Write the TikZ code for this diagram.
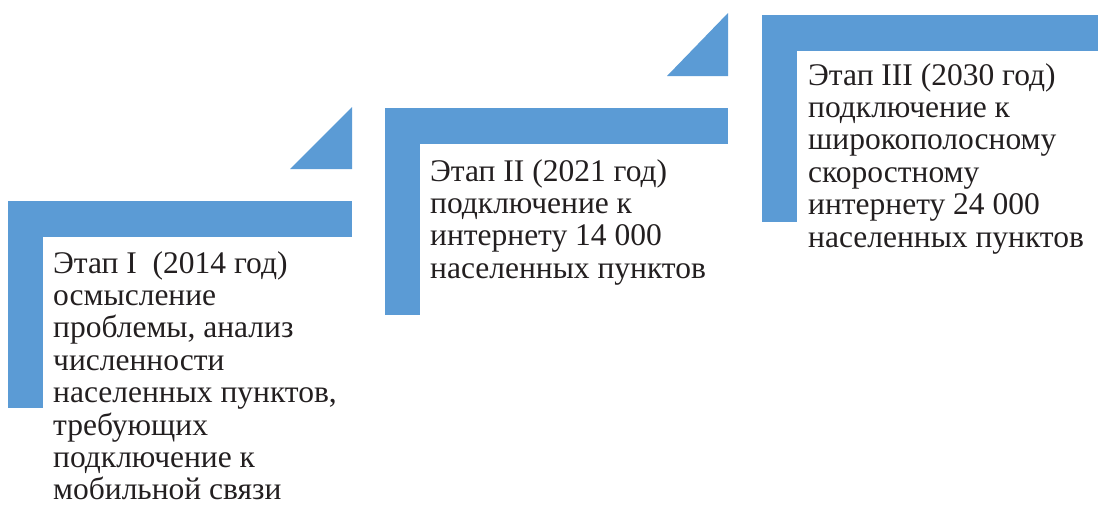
\documentclass[tikz,border=0pt]{standalone}
\usepackage{fontspec}
\setmainfont{Liberation Serif}
\usetikzlibrary{positioning}

\definecolor{stepblue}{HTML}{5B9BD5}
\definecolor{steptextcol}{HTML}{231F20}

\tikzset{
    stepbar/.style={fill=stepblue, draw=none, inner sep=0pt, outer sep=0pt},
    hbar/.style={stepbar, minimum width=#1, minimum height=36pt, anchor=north west},
    vbar/.style={stepbar, minimum width=35pt, minimum height=171pt},
    steptext/.style={align=left, inner sep=0pt, text=steptextcol,
        font=\fontsize{31.5}{32.4}\selectfont}
}

\begin{document}
\begin{tikzpicture}[x=1pt, y=-1pt]
\useasboundingbox (0,0) rectangle (1098,507);

%%% Stage I %%%

% Bars
\node[hbar=344pt] (h1) at (8,201) {};
\node[vbar, below=0pt of h1.south west, anchor=north west] (v1) {};
% Corner triangle
\path[stepbar] (h1.north east) ++(0,-32) -- ++(0,-62) -- ++(-62,62) -- cycle;
% Text
\node[steptext, below right=14pt and 10pt of v1.north east] (t1) {Этап I~ (2014 год)\\
    осмысление\\
    проблемы, анализ\\
    численности\\
    населенных пунктов,\\
    требующих\\
    подключение к\\
    мобильной связи};

%%% Stage II %%%

% Bars
\node[hbar=343pt] (h2) at (385,108) {};
\node[vbar, below=0pt of h2.south west, anchor=north west] (v2) {};
% Corner triangle
\path[stepbar] (h2.north east) ++(0,-32) -- ++(0,-63) -- ++(-61,63) -- cycle;
% Text
\node[steptext, below right=15pt and 10pt of v2.north east] (t2) {Этап II (2021 год)\\
    подключение к\\
    интернету 14 000\\
    населенных пунктов};

%%% Stage III %%%

% Bars
\node[hbar=336pt] (h3) at (762,15) {};
\node[vbar, below=0pt of h3.south west, anchor=north west] (v3) {};
% Text
\node[steptext, below right=12pt and 11pt of v3.north east] (t3) {Этап III (2030 год)\\
    подключение к\\
    широкополосному\\
    скоростному\\
    интернету 24 000\\
    населенных пунктов};

\end{tikzpicture}
\end{document}
